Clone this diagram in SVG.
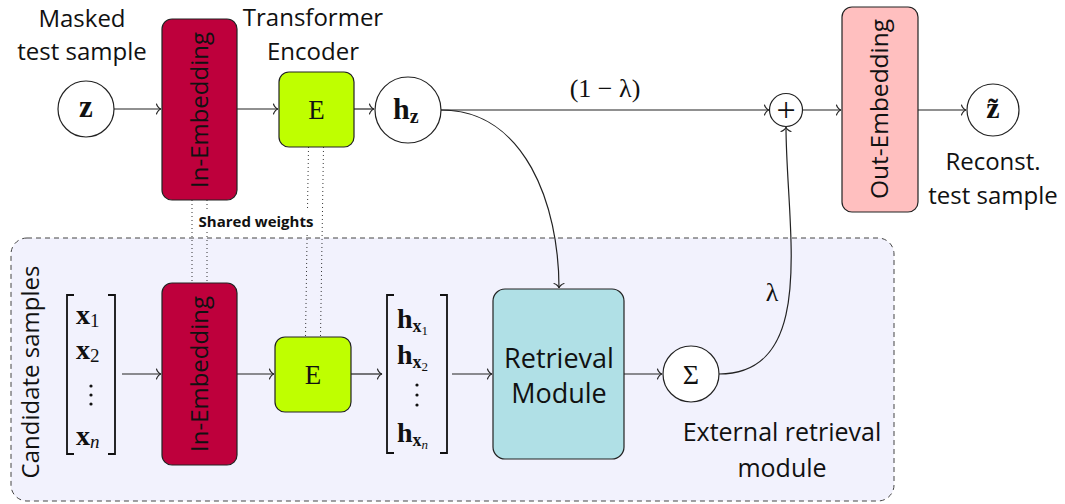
<svg xmlns="http://www.w3.org/2000/svg" width="1065" height="504" viewBox="0 0 1065 504">
  <style>
    .sans { font-family: "Open Sans", "Noto Sans", "Liberation Sans", sans-serif; fill: #111; }
    .math { font-family: "Liberation Serif", "DejaVu Serif", serif; fill: #111; }
    .bold { font-weight: bold; }
    .node { stroke: #222; stroke-width: 1.2; }
    .circ { fill: #fff; stroke: #222; stroke-width: 1.2; }
    .edge { fill: none; stroke: #222; stroke-width: 1.2; marker-end: url(#to); }
    .tie { fill: none; stroke: #333; stroke-width: 1; stroke-dasharray: 1 3; }
    .bracket { fill: none; stroke: #111; stroke-width: 1.8; }
  </style>
  <defs>
    <marker id="to" viewBox="-6 -6 8 12" markerWidth="8" markerHeight="12" refX="0" refY="0" orient="auto" markerUnits="userSpaceOnUse">
      <path d="M -4.5 -5 C -4 -3 -1.8 -0.4 0 0 C -1.8 0.4 -4 3 -4.5 5" fill="none" stroke="#222" stroke-width="1.1" stroke-linecap="round"/>
    </marker>
  </defs>

  <rect width="1065" height="504" fill="#fff"/>

  <!-- external retrieval module frame -->
  <g id="retrieval-frame">
    <rect x="11" y="238" width="883" height="263" rx="16" fill="#f2f2fd" stroke="#444" stroke-width="1" stroke-dasharray="5 4"/>
    <text class="sans" transform="translate(39,372) rotate(-90)" text-anchor="middle" font-size="24">Candidate samples</text>
    <text class="sans" x="782" y="441" text-anchor="middle" font-size="25">External retrieval</text>
    <text class="sans" x="782" y="477" text-anchor="middle" font-size="25">module</text>
  </g>

  <!-- weight-sharing ties -->
  <g id="shared-weights">
    <line class="tie" x1="192" y1="200" x2="192" y2="283"/>
    <line class="tie" x1="207" y1="200" x2="207" y2="283"/>
    <line class="tie" x1="308.5" y1="147" x2="305.5" y2="337"/>
    <line class="tie" x1="323.5" y1="147" x2="320.5" y2="337"/>
    <rect x="197" y="211" width="118" height="21" fill="#fff"/>
    <text class="sans bold" x="256" y="227" text-anchor="middle" font-size="15">Shared weights</text>
  </g>

  <!-- top row -->
  <g id="masked-label">
    <text class="sans" x="82" y="27" text-anchor="middle" font-size="24">Masked</text>
    <text class="sans" x="82" y="60" text-anchor="middle" font-size="24">test sample</text>
  </g>
  <g id="z">
    <circle class="circ" cx="86" cy="109" r="28"/>
    <text class="math bold" x="86" y="117" text-anchor="middle" font-size="31">z</text>
  </g>
  <g id="in-embedding-top">
    <rect class="node" x="162" y="19" width="75" height="181" rx="10" fill="#be003c"/>
    <text class="sans" transform="translate(208,110) rotate(-90)" text-anchor="middle" font-size="24">In-Embedding</text>
  </g>
  <g id="encoder-label">
    <text class="sans" x="313" y="26" text-anchor="middle" font-size="24">Transformer</text>
    <text class="sans" x="313" y="60" text-anchor="middle" font-size="24">Encoder</text>
  </g>
  <g id="encoder-top">
    <rect class="node" x="279" y="72" width="75" height="75" rx="10" fill="#bfff00"/>
    <text class="math" x="316.5" y="119" text-anchor="middle" font-size="27">E</text>
  </g>
  <g id="hz">
    <circle class="circ" cx="408" cy="110" r="33"/>
    <text class="math bold" x="393" y="119" font-size="30">h<tspan font-size="20" dy="4">z</tspan></text>
  </g>
  <g id="sum">
    <circle class="circ" cx="786" cy="110" r="16.5"/>
    <text class="math" x="786" y="121" text-anchor="middle" font-size="34">+</text>
  </g>
  <g id="out-embedding">
    <rect class="node" x="842" y="7" width="76" height="205" rx="10" fill="#ffbfbf"/>
    <text class="sans" transform="translate(888,109) rotate(-90)" text-anchor="middle" font-size="24.5">Out-Embedding</text>
  </g>
  <g id="z-tilde">
    <circle class="circ" cx="993" cy="110" r="26"/>
    <text class="math bold" x="993" y="118" text-anchor="middle" font-size="30">z̃</text>
    <text class="sans" x="993" y="170" text-anchor="middle" font-size="24">Reconst.</text>
    <text class="sans" x="993" y="204" text-anchor="middle" font-size="24">test sample</text>
  </g>

  <!-- bottom row -->
  <g id="candidates">
    <path class="bracket" d="M 74 295 H 67 V 454 H 74"/>
    <path class="bracket" d="M 108 295 H 115 V 454 H 108"/>
    <text class="math bold" x="76" y="324" font-size="28">x<tspan font-weight="normal" font-size="19" dy="3">1</tspan></text>
    <text class="math bold" x="76" y="359" font-size="28">x<tspan font-weight="normal" font-size="19" dy="3">2</tspan></text>
    <circle cx="91" cy="386" r="1.6" fill="#111"/>
    <circle cx="91" cy="395" r="1.6" fill="#111"/>
    <circle cx="91" cy="404" r="1.6" fill="#111"/>
    <text class="math bold" x="76" y="445" font-size="28">x<tspan font-weight="normal" font-style="italic" font-size="19" dy="3">n</tspan></text>
  </g>
  <g id="in-embedding-bottom">
    <rect class="node" x="162" y="283" width="75" height="182" rx="10" fill="#be003c"/>
    <text class="sans" transform="translate(208,374) rotate(-90)" text-anchor="middle" font-size="24">In-Embedding</text>
  </g>
  <g id="encoder-bottom">
    <rect class="node" x="275" y="337" width="76" height="75" rx="10" fill="#bfff00"/>
    <text class="math" x="313" y="384" text-anchor="middle" font-size="27">E</text>
  </g>
  <g id="hidden-states">
    <path class="bracket" d="M 394 295 H 387 V 453 H 394"/>
    <path class="bracket" d="M 440 295 H 447 V 453 H 440"/>
    <text class="math bold" x="397" y="328" font-size="28">h<tspan font-size="18" dy="4">x</tspan><tspan font-weight="normal" font-size="13" dy="3">1</tspan></text>
    <text class="math bold" x="397" y="364" font-size="28">h<tspan font-size="18" dy="4">x</tspan><tspan font-weight="normal" font-size="13" dy="3">2</tspan></text>
    <circle cx="417" cy="385" r="1.6" fill="#111"/>
    <circle cx="417" cy="395" r="1.6" fill="#111"/>
    <circle cx="417" cy="405" r="1.6" fill="#111"/>
    <text class="math bold" x="397" y="442" font-size="28">h<tspan font-size="18" dy="4">x</tspan><tspan font-weight="normal" font-style="italic" font-size="13" dy="3">n</tspan></text>
  </g>
  <g id="retrieval-module">
    <rect class="node" x="493" y="289" width="131" height="170" rx="12" fill="#b0e0e6"/>
    <text class="sans" x="559" y="368" text-anchor="middle" font-size="27">Retrieval</text>
    <text class="sans" x="559" y="403" text-anchor="middle" font-size="27">Module</text>
  </g>
  <g id="sigma">
    <circle class="circ" cx="691" cy="374" r="28"/>
    <text class="math" x="691" y="384" text-anchor="middle" font-size="28">Σ</text>
  </g>

  <!-- connectors -->
  <g id="connectors">
    <line class="edge" x1="114" y1="109" x2="161" y2="109"/>
    <line class="edge" x1="237" y1="109" x2="278" y2="109"/>
    <line class="edge" x1="354" y1="109" x2="374" y2="109"/>
    <line class="edge" x1="441" y1="110" x2="769" y2="110"/>
    <line class="edge" x1="802.5" y1="110" x2="841" y2="110"/>
    <line class="edge" x1="918" y1="110" x2="966" y2="110"/>
    <path class="edge" d="M 441 110 C 525 110 559 205 559 288"/>
    <path class="edge" d="M 719 374 C 819 374 786 226 786 127"/>
    <line class="edge" x1="122" y1="374" x2="161" y2="374"/>
    <line class="edge" x1="237" y1="374" x2="274" y2="374"/>
    <line class="edge" x1="351" y1="374" x2="382" y2="374"/>
    <line class="edge" x1="452" y1="374" x2="492" y2="374"/>
    <line class="edge" x1="624" y1="374" x2="662" y2="374"/>
    <text class="math" x="605" y="97" text-anchor="middle" font-size="26">(1 − λ)</text>
    <text class="math" x="772" y="301" text-anchor="middle" font-size="26">λ</text>
  </g>
</svg>
